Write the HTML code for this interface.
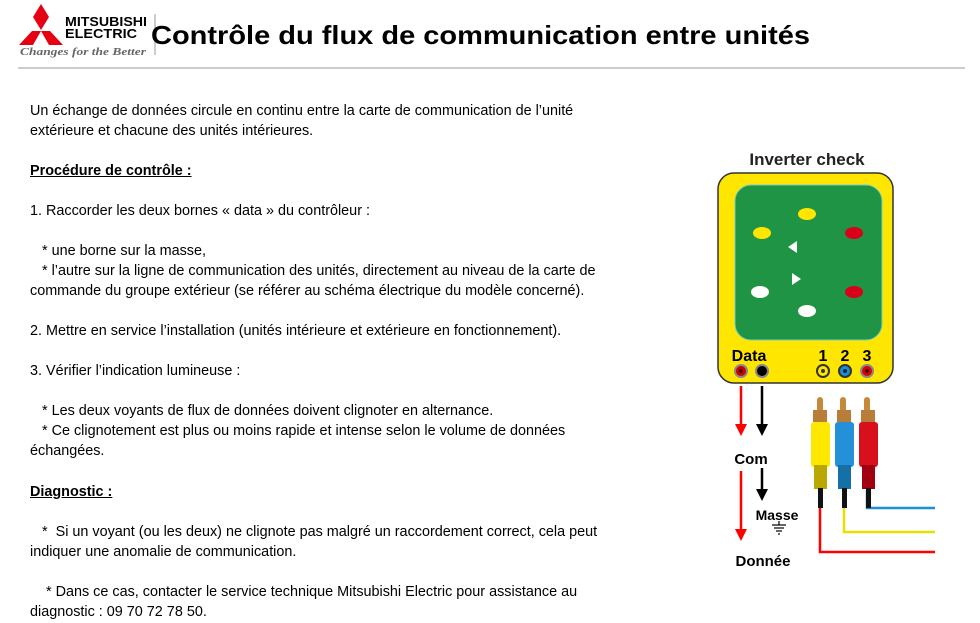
<!DOCTYPE html>
<html><head><meta charset="utf-8"><style>
body{margin:0;width:980px;height:623px;background:#fff;position:relative;overflow:hidden;font-family:"Liberation Sans",sans-serif}
.t{position:absolute;left:30px;font-size:14.4px;line-height:20px;white-space:nowrap;color:#000}
.u{font-weight:bold;text-decoration:underline}
</style></head><body>
<svg width="980" height="623" style="position:absolute;left:0;top:0">
<polygon points="41,4 49,17 41,30 33,17" fill="#e60012"/>
<polygon points="32,31 41,31 33,45 19,45" fill="#e60012"/>
<polygon points="50,31 41,31 49,45 63,45" fill="#e60012"/>
<text x="65" y="26" font-family="Liberation Sans" font-weight="bold" font-size="13" fill="#000" textLength="82" lengthAdjust="spacingAndGlyphs">MITSUBISHI</text>
<text x="65" y="38" font-family="Liberation Sans" font-weight="bold" font-size="13" fill="#000" textLength="72" lengthAdjust="spacingAndGlyphs">ELECTRIC</text>
<text x="20" y="55" font-family="Liberation Serif" font-style="italic" font-weight="bold" font-size="11" fill="#666" textLength="126" lengthAdjust="spacingAndGlyphs">Changes for the Better</text>
<line x1="155" y1="14" x2="155" y2="55" stroke="#999"/>
<text x="151" y="44" font-family="Liberation Sans" font-weight="bold" font-size="26" fill="#000" textLength="659" lengthAdjust="spacingAndGlyphs">Contrôle du flux de communication entre unités</text>
<line x1="18" y1="68" x2="965" y2="68" stroke="#bbb" stroke-width="1.5"/>

<text x="807" y="165" text-anchor="middle" font-family="Liberation Sans" font-weight="bold" font-size="17" fill="#222">Inverter check</text>
<rect x="718" y="173" width="175" height="210" rx="16" fill="#ffe600" stroke="#333" stroke-width="1.5"/>
<rect x="735" y="185" width="147" height="155" rx="16" fill="#1e9444" stroke="#7cc" stroke-width="1"/>
<ellipse cx="807" cy="214" rx="9" ry="6" fill="#ffe600"/>
<ellipse cx="762" cy="233" rx="9" ry="6" fill="#ffe600"/>
<ellipse cx="854" cy="233" rx="9" ry="6" fill="#d9001b"/>
<ellipse cx="854" cy="292" rx="9" ry="6" fill="#d9001b"/>
<ellipse cx="760" cy="292" rx="9" ry="6" fill="#fff"/>
<ellipse cx="807" cy="311" rx="9" ry="6" fill="#fff"/>
<polygon points="788,247 797,241 797,253" fill="#fff"/>
<polygon points="801,279 792,273 792,285" fill="#fff"/>
<text x="749" y="361" text-anchor="middle" font-family="Liberation Sans" font-weight="bold" font-size="16" fill="#000">Data</text>
<text x="823" y="361" text-anchor="middle" font-family="Liberation Sans" font-weight="bold" font-size="16">1</text>
<text x="845" y="361" text-anchor="middle" font-family="Liberation Sans" font-weight="bold" font-size="16">2</text>
<text x="867" y="361" text-anchor="middle" font-family="Liberation Sans" font-weight="bold" font-size="16">3</text>
<g stroke="#888" stroke-width="2">
<circle cx="741" cy="371" r="6" fill="#c00"/><circle cx="762" cy="371" r="6" fill="#000"/>
<circle cx="823" cy="371" r="6" fill="#ffe600" stroke="#333"/><circle cx="845" cy="371" r="6" fill="#1a8fd6" stroke="#333"/><circle cx="867" cy="371" r="6" fill="#d00"/>
</g>
<circle cx="741" cy="371" r="2" fill="#400"/><circle cx="823" cy="371" r="2" fill="#333"/><circle cx="845" cy="371" r="2" fill="#024"/><circle cx="867" cy="371" r="2" fill="#400"/>

<g stroke-width="2.5">
<line x1="741" y1="386" x2="741" y2="425" stroke="#f00"/>
<line x1="762" y1="386" x2="762" y2="425" stroke="#000"/>
<line x1="741" y1="471" x2="741" y2="530" stroke="#f00"/>
<line x1="762" y1="468" x2="762" y2="490" stroke="#000"/>
</g>
<polygon points="735,424 747,424 741,436" fill="#f00"/>
<polygon points="756,424 768,424 762,436" fill="#000"/>
<polygon points="735,529 747,529 741,541" fill="#f00"/>
<polygon points="756,489 768,489 762,501" fill="#000"/>
<text x="751" y="464" text-anchor="middle" font-family="Liberation Sans" font-weight="bold" font-size="15">Com</text>
<text x="777" y="520" text-anchor="middle" font-family="Liberation Sans" font-weight="bold" font-size="14">Masse</text>
<g stroke="#000" stroke-width="1.2"><line x1="779" y1="521" x2="779" y2="525"/><line x1="772" y1="525" x2="786" y2="525"/><line x1="774" y1="528" x2="784" y2="528"/><line x1="776" y1="531" x2="782" y2="531"/><line x1="778" y1="534" x2="780" y2="534"/></g>
<text x="763" y="566" text-anchor="middle" font-family="Liberation Sans" font-weight="bold" font-size="15">Donnée</text>

<g fill="none" stroke-width="2.5">
<polyline points="867,490 867,508 935,508" stroke="#1a8fd6"/>
<polyline points="844,490 844,532 935,532" stroke="#e5e000"/>
<polyline points="820,490 820,552 935,552" stroke="#f00"/>
</g>
<g>
<rect x="817" y="397" width="6" height="15" rx="3" fill="#c8883a"/>
<rect x="840" y="397" width="6" height="15" rx="3" fill="#c8883a"/>
<rect x="864" y="397" width="6" height="15" rx="3" fill="#c8883a"/>
<rect x="813" y="410" width="14" height="12" fill="#b97d3a"/>
<rect x="837" y="410" width="14" height="12" fill="#b97d3a"/>
<rect x="861" y="410" width="14" height="12" fill="#b97d3a"/>
<rect x="811" y="422" width="19" height="45" rx="3" fill="#ffe800"/>
<rect x="835" y="422" width="19" height="45" rx="3" fill="#2490d8"/>
<rect x="859" y="422" width="19" height="45" rx="3" fill="#d8101e"/>
<rect x="814" y="465" width="13" height="24" fill="#b8a800"/>
<rect x="838" y="465" width="13" height="24" fill="#1670a8"/>
<rect x="862" y="465" width="13" height="24" fill="#a00010"/>
<rect x="818" y="488" width="5" height="20" fill="#111"/>
<rect x="842" y="488" width="5" height="20" fill="#111"/>
<rect x="866" y="488" width="5" height="20" fill="#111"/>
</g>
</svg>

<div class="t" style="top:101px">Un échange de données circule en continu entre la carte de communication de l’unité<br>extérieure et chacune des unités intérieures.</div>
<div class="t u" style="top:161px">Procédure de contrôle :</div>
<div class="t" style="top:201px">1. Raccorder les deux bornes « data » du contrôleur :</div>
<div class="t" style="top:241px">&nbsp;&nbsp; * une borne sur la masse,<br>&nbsp;&nbsp; * l’autre sur la ligne de communication des unités, directement au niveau de la carte de<br>commande du groupe extérieur (se référer au schéma électrique du modèle concerné).</div>
<div class="t" style="top:321px">2. Mettre en service l’installation (unités intérieure et extérieure en fonctionnement).</div>
<div class="t" style="top:361px">3. Vérifier l’indication lumineuse :</div>
<div class="t" style="top:401px">&nbsp;&nbsp; * Les deux voyants de flux de données doivent clignoter en alternance.<br>&nbsp;&nbsp; * Ce clignotement est plus ou moins rapide et intense selon le volume de données<br>échangées.</div>
<div class="t u" style="top:482px">Diagnostic :</div>
<div class="t" style="top:522px">&nbsp;&nbsp; *&nbsp; Si un voyant (ou les deux) ne clignote pas malgré un raccordement correct, cela peut<br>indiquer une anomalie de communication.</div>
<div class="t" style="top:582px">&nbsp;&nbsp;&nbsp; * Dans ce cas, contacter le service technique Mitsubishi Electric pour assistance au<br>diagnostic : 09 70 72 78 50.</div>
</body></html>
